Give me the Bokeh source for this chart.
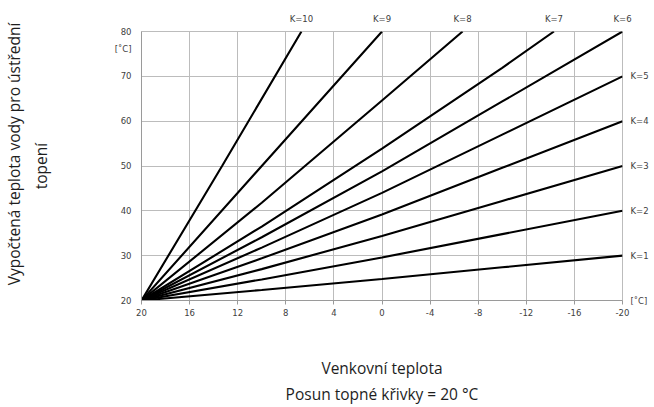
from bokeh.plotting import figure
from bokeh.models import Range1d, FixedTicker, LinearAxis
from bokeh.embed import file_html
from bokeh.resources import INLINE

# ---- data ----
x_ticks = [20, 16, 12, 8, 4, 0, -4, -8, -12, -16, -20]
x_tick_labels = ["20", "16", "12", "8", "4", "0", "-4", "-8", "-12", "-16", "-20"]
y_ticks = [20, 30, 40, 50, 60, 70, 80]
y_tick_labels = ["20", "30", "40", "50", "60", "70", "80"]

k_names = ["K=1", "K=2", "K=3", "K=4", "K=5", "K=6", "K=7", "K=8", "K=9", "K=10"]
k1_x = [20, 10, 0, -10, -20]
k1_y = [20, 22.35, 24.8, 27.4, 30]
k2_x = [20, 10, 0, -10, -20]
k2_y = [20, 24.7, 29.6, 34.8, 40]
k3_x = [20, 10, 0, -10, -20]
k3_y = [20, 27.0, 34.4, 42.2, 50]
k4_x = [20, 10, 0, -10, -20]
k4_y = [20, 29.4, 39.2, 49.6, 60]
k5_x = [20, 10, 0, -10, -20]
k5_y = [20, 31.8, 44.0, 57.0, 70]
k6_x = [20, 10, 0, -10, -20]
k6_y = [20, 34.1, 48.8, 64.4, 80]
k7_x = [20, 10, 0, -10, -14.3]
k7_y = [20, 36.5, 53.9, 71.9, 80]
k8_x = [20, 10, 0, -6.7]
k8_y = [20, 41.8, 64.6, 80]
k9_x = [20, 10, 0]
k9_y = [20, 50.0, 80]
k10_x = [20, 13.3, 6.7]
k10_y = [20, 50.0, 80]

curves_x = [k1_x, k2_x, k3_x, k4_x, k5_x, k6_x, k7_x, k8_x, k9_x, k10_x]
curves_y = [k1_y, k2_y, k3_y, k4_y, k5_y, k6_y, k7_y, k8_y, k9_y, k10_y]

x_title = "Venkovní teplota"
x_subtitle = "Posun topné křivky = 20 °C"
y_title_1 = "Vypočtená teplota vody pro ústřední"
y_title_2 = "topení"
unit = "[˚C]"
y_unit_at = 76  # height of the "[˚C]" note beside the y axis

# ---- figure ----
W, H = 652, 407
BL, BR, BT, BB = 139, 30, 31, 106

p = figure(width=W, height=H, output_backend="svg", toolbar_location=None,
           x_range=Range1d(20, -20), y_range=Range1d(20, 80),
           min_border_left=BL, min_border_right=BR, min_border_top=BT, min_border_bottom=BB)
p.background_fill_color = "white"
p.border_fill_color = "white"
p.outline_line_color = "#bcbcbc"

grid_col = "#bcbcbc"
axis_col = "#9a9a9a"
tick_font = "DejaVu Sans"
tick_size = "8.5px"
lab_col = "#404040"
title_font = "Open Sans"
title_size = "15.5px"
title_col = "#1e1e1e"

p.xgrid.ticker = FixedTicker(ticks=x_ticks)
p.ygrid.ticker = FixedTicker(ticks=y_ticks)
p.xgrid.grid_line_color = grid_col
p.ygrid.grid_line_color = grid_col


def style_axis(ax, tick_out, standoff):
    ax.major_tick_in = 0
    ax.major_tick_out = tick_out
    ax.minor_tick_line_color = None
    ax.major_label_text_font = tick_font
    ax.major_label_text_font_size = tick_size
    ax.major_label_text_color = lab_col
    ax.major_label_standoff = standoff


def style_title(ax):
    ax.axis_label_text_font = title_font
    ax.axis_label_text_font_size = title_size
    ax.axis_label_text_font_style = "normal"
    ax.axis_label_text_color = title_col


# bottom axis
xa = p.xaxis[0]
xa.ticker = FixedTicker(ticks=x_ticks)
xa.major_label_overrides = {t: s for t, s in zip(x_ticks, x_tick_labels)}
style_axis(xa, 4, 4)
xa.axis_line_color = axis_col
xa.major_tick_line_color = axis_col
xa.axis_label = x_title + "\n" + x_subtitle
style_title(xa)
xa.axis_label_standoff = 38

# left axis
ya = p.yaxis[0]
ya.ticker = FixedTicker(ticks=y_ticks + [y_unit_at])
ovr = {t: s for t, s in zip(y_ticks, y_tick_labels)}
ovr[y_unit_at] = unit
ya.major_label_overrides = ovr
style_axis(ya, 0, 10)
ya.axis_line_color = axis_col
ya.major_tick_line_color = None
pad = "\u00a0" * 6
ya.axis_label = pad + y_title_1 + "\n" + y_title_2
style_title(ya)
ya.axis_label_standoff = 60

# right axis: labels of curves ending on the right edge, plus the x unit
right_ticks = [20]
right_ovr = {20: unit}
top_ticks = []
top_ovr = {}
for name, cx, cy in zip(k_names, curves_x, curves_y):
    if cy[-1] >= 80:
        top_ticks.append(cx[-1])
        top_ovr[cx[-1]] = name
    else:
        right_ticks.append(cy[-1])
        right_ovr[cy[-1]] = name

ra = LinearAxis(ticker=FixedTicker(ticks=right_ticks), major_label_overrides=right_ovr)
style_axis(ra, 0, 8)
ra.axis_line_color = None
ra.major_tick_line_color = None
p.add_layout(ra, "right")

ta = LinearAxis(ticker=FixedTicker(ticks=top_ticks), major_label_overrides=top_ovr)
style_axis(ta, 0, 8)
ta.axis_line_color = None
ta.major_tick_line_color = None
p.add_layout(ta, "above")

for cx, cy in zip(curves_x, curves_y):
    p.line(x=cx, y=cy, line_color="black", line_width=2.1)

open("out.html", "w").write(file_html(p, INLINE))
